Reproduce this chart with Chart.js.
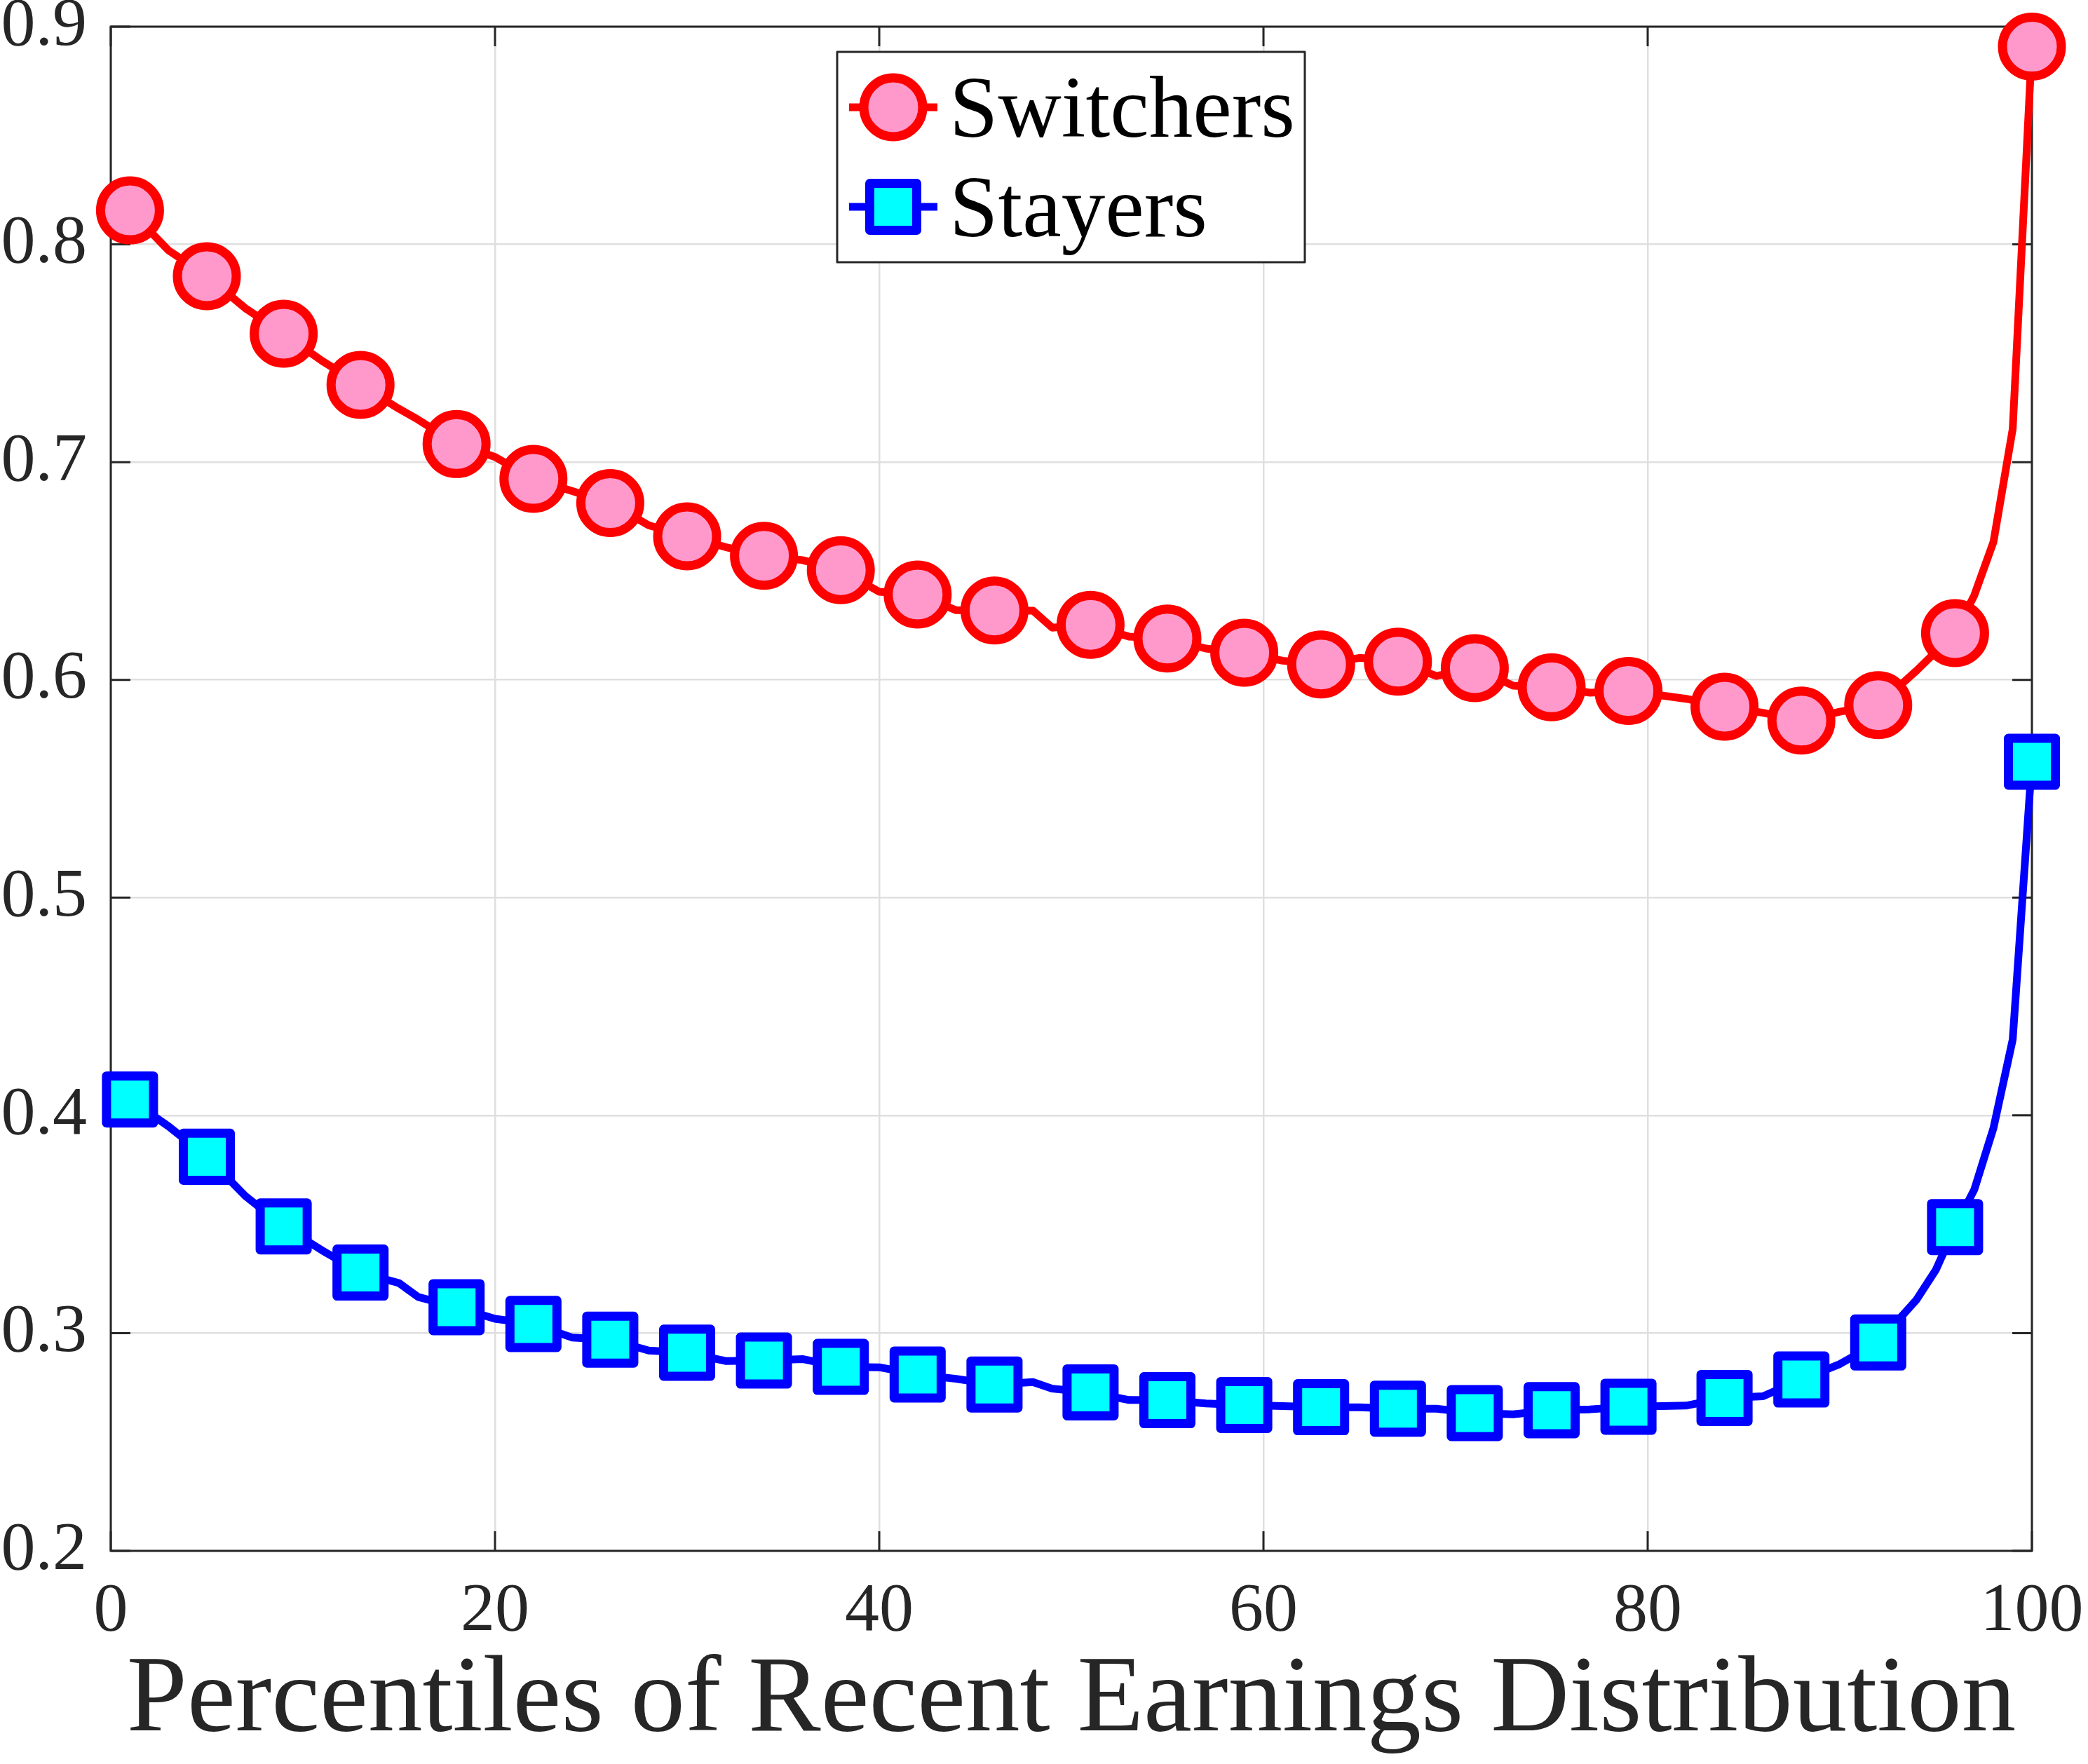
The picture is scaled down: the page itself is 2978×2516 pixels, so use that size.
<!DOCTYPE html>
<html>
<head>
<meta charset="utf-8">
<script src="https://cdn.jsdelivr.net/npm/chart.js@4.4.1/dist/chart.umd.min.js"></script>
<style>
  html, body { margin: 0; padding: 0; background: #fff; }
  #wrap { width: 2978px; height: 2516px; }
</style>
</head>
<body>
<div id="wrap"><canvas id="chart"></canvas></div>
<script>
// Percentiles where the curves have a vertex, and where the markers sit
const percentiles = [1, 3, 5, 7, 9, 11, 13, 15, 16, 18, 20, 22, 24, 26, 28, 30, 32, 34, 36, 38,
  40, 42, 44, 46, 48, 49, 51, 53, 55, 57, 59, 61, 63, 65, 67, 69, 71, 73, 75, 77,
  79, 82, 84, 86, 88, 90, 92, 94, 95, 96, 97, 98, 99, 100];
const markerPercentiles = [1, 5, 9, 13, 18, 22, 26, 30, 34, 38, 42, 46, 51, 55, 59, 63,
  67, 71, 75, 79, 84, 88, 92, 96, 100];

const switchers = [0.8156, 0.7973, 0.7854, 0.7707, 0.7590, 0.7465, 0.7355, 0.7245, 0.7195, 0.7083,
  0.7024, 0.6923, 0.6868, 0.6812, 0.6710, 0.6659, 0.6610, 0.6570, 0.6550, 0.6504,
  0.6405, 0.6392, 0.6320, 0.6319, 0.6318, 0.6240, 0.6253, 0.6199, 0.6190, 0.6144,
  0.6125, 0.6088, 0.6071, 0.6101, 0.6084, 0.6018, 0.6054, 0.5973, 0.5966, 0.5941,
  0.5949, 0.5913, 0.5877, 0.5849, 0.5813, 0.5854, 0.5884, 0.6043, 0.6129, 0.6215,
  0.6388, 0.6634, 0.7152, 0.8908];
const stayers = [0.4073, 0.3950, 0.3810, 0.3630, 0.3490, 0.3380, 0.3278, 0.3230, 0.3166, 0.3119,
  0.3066, 0.3042, 0.2980, 0.2970, 0.2920, 0.2910, 0.2872, 0.2874, 0.2881, 0.2845,
  0.2843, 0.2810, 0.2790, 0.2764, 0.2775, 0.2745, 0.2728, 0.2693, 0.2692, 0.2677,
  0.2670, 0.2665, 0.2660, 0.2659, 0.2653, 0.2653, 0.2633, 0.2627, 0.2646, 0.2650,
  0.2662, 0.2667, 0.2702, 0.2710, 0.2787, 0.2858, 0.2957, 0.3154, 0.3290, 0.3487,
  0.3659, 0.3942, 0.4348, 0.5624];

const seriesNames = ["Switchers", "Stayers"];
const xTicks = [0, 20, 40, 60, 80, 100];
const yTicks = [0.2, 0.3, 0.4, 0.5, 0.6, 0.7, 0.8, 0.9];
const xTitle = "Percentiles of Recent Earnings Distribution";

const INK = "#262626";
const SERIF = '"Liberation Serif", "Times New Roman", serif';

function toPoints(values) {
  return percentiles.map((p, i) => ({ x: p, y: values[i] }));
}

function markerRadius(r) {
  return (ctx) => markerPercentiles.includes(percentiles[ctx.dataIndex]) ? r : 0;
}

// fixed axis sizes, and no extra room for overhanging tick labels
function fixScale(size) {
  return (s) => {
    if (s.isHorizontal()) s.height = size; else s.width = size;
    s.paddingTop = 0; s.paddingBottom = 0;
    s.paddingLeft = 0; s.paddingRight = 0;
  };
}

// box round the plot with inward ticks on all four sides
const framePlugin = {
  id: "frame",
  beforeDatasetsDraw(chart) {
    const { ctx, chartArea: a, scales: { x, y } } = chart;
    ctx.save();
    ctx.strokeStyle = INK;
    ctx.lineWidth = 3;
    ctx.strokeRect(a.left, a.top, a.right - a.left, a.bottom - a.top);
    ctx.beginPath();
    xTicks.forEach(v => {
      const px = x.getPixelForValue(v);
      ctx.moveTo(px, a.bottom); ctx.lineTo(px, a.bottom - 28);
      ctx.moveTo(px, a.top); ctx.lineTo(px, a.top + 28);
    });
    yTicks.forEach(v => {
      const py = y.getPixelForValue(v);
      ctx.moveTo(a.left, py); ctx.lineTo(a.left + 28, py);
      ctx.moveTo(a.right, py); ctx.lineTo(a.right - 28, py);
    });
    ctx.stroke();
    ctx.restore();
    ctx.lineJoin = "round"; // rounded corners on the square markers
  }
};

// legend box drawn inside the plot, top centre
const legendPlugin = {
  id: "boxLegend",
  afterDatasetsDraw(chart) {
    const ctx = chart.ctx;
    const box = { x: 1194, y: 74, w: 667, h: 300 };
    ctx.save();
    ctx.fillStyle = "#fff";
    ctx.fillRect(box.x, box.y, box.w, box.h);
    ctx.strokeStyle = INK;
    ctx.lineWidth = 3;
    ctx.strokeRect(box.x, box.y, box.w, box.h);

    const rows = [153, 295];
    chart.data.datasets.forEach((ds, i) => {
      const cy = rows[i];
      const cx = 1274;
      ctx.strokeStyle = ds.borderColor;
      ctx.lineWidth = 11;
      ctx.lineCap = "butt";
      ctx.beginPath();
      ctx.moveTo(1211, cy);
      ctx.lineTo(1337, cy);
      ctx.stroke();

      ctx.fillStyle = ds.pointBackgroundColor;
      ctx.strokeStyle = ds.pointBorderColor;
      ctx.lineWidth = 13;
      ctx.lineJoin = "round";
      ctx.beginPath();
      if (ds.pointStyle === "circle") {
        ctx.arc(cx, cy, 42, 0, Math.PI * 2);
      } else {
        ctx.rect(cx - 33.5, cy - 33.5, 67, 67);
      }
      ctx.fill();
      ctx.stroke();

      ctx.fillStyle = "#000";
      ctx.font = "125px " + SERIF;
      ctx.textBaseline = "alphabetic";
      ctx.textAlign = "left";
      ctx.fillText(ds.label, 1354, cy + 42);
    });
    ctx.restore();
  }
};

const chart = new Chart(document.getElementById("chart"), {
  type: "line",
  data: {
    datasets: [
      {
        label: seriesNames[0],
        data: toPoints(switchers),
        borderColor: "#ff0000",
        borderWidth: 11,
        borderJoinStyle: "round",
        borderCapStyle: "round",
        pointStyle: "circle",
        pointRadius: markerRadius(42),
        pointBackgroundColor: "#ff99cc",
        pointBorderColor: "#ff0000",
        pointBorderWidth: 13,
        tension: 0,
        clip: false,
      },
      {
        label: seriesNames[1],
        data: toPoints(stayers),
        borderColor: "#0000ff",
        borderWidth: 11,
        borderJoinStyle: "round",
        borderCapStyle: "round",
        pointStyle: "rect",
        pointRadius: markerRadius(47.4),
        pointBackgroundColor: "#00ffff",
        pointBorderColor: "#0000ff",
        pointBorderWidth: 13,
        tension: 0,
        clip: false,
      },
    ],
  },
  options: {
    responsive: true,
    maintainAspectRatio: false,
    devicePixelRatio: 1,
    animation: false,
    events: [],
    layout: {
      autoPadding: false,
      padding: { top: 38, right: 80, left: 0, bottom: 0 },
    },
    plugins: {
      legend: { display: false },
      tooltip: { enabled: false },
    },
    scales: {
      x: {
        type: "linear",
        min: 0,
        max: 100,
        afterBuildTicks: (s) => { s.ticks = xTicks.map(v => ({ value: v })); },
        afterFit: fixScale(304),
        grid: { color: "#dfdfdf", lineWidth: 2.5, drawTicks: false },
        border: { display: false },
        ticks: {
          padding: 28,
          color: INK,
          maxRotation: 0,
          autoSkip: false,
          font: { family: SERIF, size: 98 },
        },
        title: {
          display: true,
          text: xTitle,
          color: INK,
          font: { family: SERIF, size: 155, lineHeight: 1.0 },
          padding: { top: 0, bottom: 11 },
        },
      },
      y: {
        type: "linear",
        min: 0.2,
        max: 0.9,
        afterBuildTicks: (s) => { s.ticks = yTicks.map(v => ({ value: v })); },
        afterFit: fixScale(158),
        grid: { color: "#dfdfdf", lineWidth: 2.5, drawTicks: false },
        border: { display: false },
        ticks: {
          padding: 34,
          color: INK,
          autoSkip: false,
          font: { family: SERIF, size: 98 },
          callback: (v) => v.toFixed(1),
        },
      },
    },
  },
  plugins: [framePlugin, legendPlugin],
});
</script>
</body>
</html>
